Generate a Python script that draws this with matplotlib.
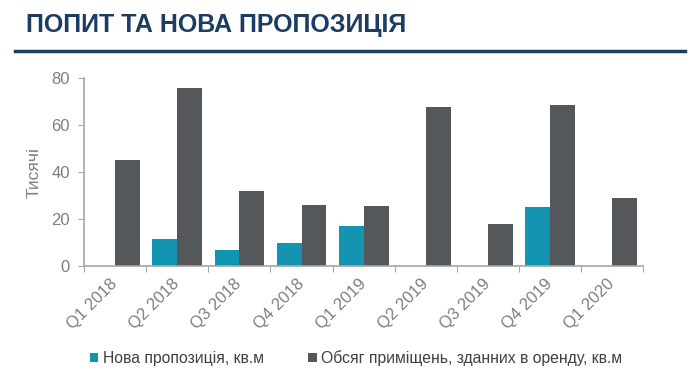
import matplotlib.pyplot as plt
import numpy as np
from matplotlib import font_manager

quarters = ["Q1 2018", "Q2 2018", "Q3 2018", "Q4 2018", "Q1 2019",
            "Q2 2019", "Q3 2019", "Q4 2019", "Q1 2020"]
new_supply = [0, 11.6, 6.8, 9.9, 17.0, 0, 0, 25.3, 0]
leased = [45.4, 76.0, 32.2, 26.1, 25.7, 67.8, 17.9, 68.6, 28.9]
yticks = [0, 20, 40, 60, 80]

names = {f.name for f in font_manager.fontManager.ttflist}
narrow = "Liberation Sans Narrow" if "Liberation Sans Narrow" in names else "Liberation Sans"
plt.rcParams['font.family'] = [narrow, 'DejaVu Sans']

blue = "#1395b1"
gray = "#55585b"
txt = "#7f7f7f"
axcol = "#a6a6a6"

fig = plt.figure(figsize=(7, 3.84), dpi=100)
ax = fig.add_axes([0.12, 0.307, 0.799, 0.489])

x = np.arange(len(quarters)) + 0.5
w = 0.4
ax.bar(x - w / 2, new_supply, w, color=blue, label="Нова пропозиція, кв.м")
ax.bar(x + w / 2, leased, w, color=gray, label="Обсяг приміщень, зданних в оренду, кв.м")

ax.set_xlim(0, len(quarters))
ax.set_ylim(0, 80)
ax.set_yticks(yticks)
ax.set_xticks(np.arange(len(quarters) + 1))
ax.set_xticklabels([])
ax.set_xticks(x, minor=True)
ax.set_xticklabels(quarters, minor=True, rotation=45, ha='right', va='center',
                   rotation_mode='anchor', fontsize=12, color=txt)
ax.tick_params(axis='x', which='minor', length=0, pad=11)
ax.tick_params(axis='x', which='major', length=4, color=axcol, direction='out')
ax.tick_params(axis='y', length=4, color=axcol, labelsize=12, labelcolor=txt, pad=6)

for s in ['top', 'right']:
    ax.spines[s].set_visible(False)
for s in ['left', 'bottom']:
    ax.spines[s].set_color(axcol)
    ax.spines[s].set_linewidth(1.2)

ax.set_ylabel("Тисячі", fontsize=12.5, color=txt, labelpad=7)

fig.text(0.037, 0.935, "ПОПИТ ТА НОВА ПРОПОЗИЦІЯ", fontsize=18, fontweight='bold',
         color="#1d3c63", va='center', ha='left')
fig.add_artist(plt.Line2D([0.022, 0.978], [0.868, 0.868], color="#1d3c63", lw=2.5))

fig.legend(loc='center left', bbox_to_anchor=(0.108, 0.068), ncol=2, frameon=False,
           fontsize=11.3, handlelength=0.55, handleheight=0.55, handletextpad=0.3,
           columnspacing=2.8, labelcolor="#404040")

fig.savefig("out.png", dpi=100)
